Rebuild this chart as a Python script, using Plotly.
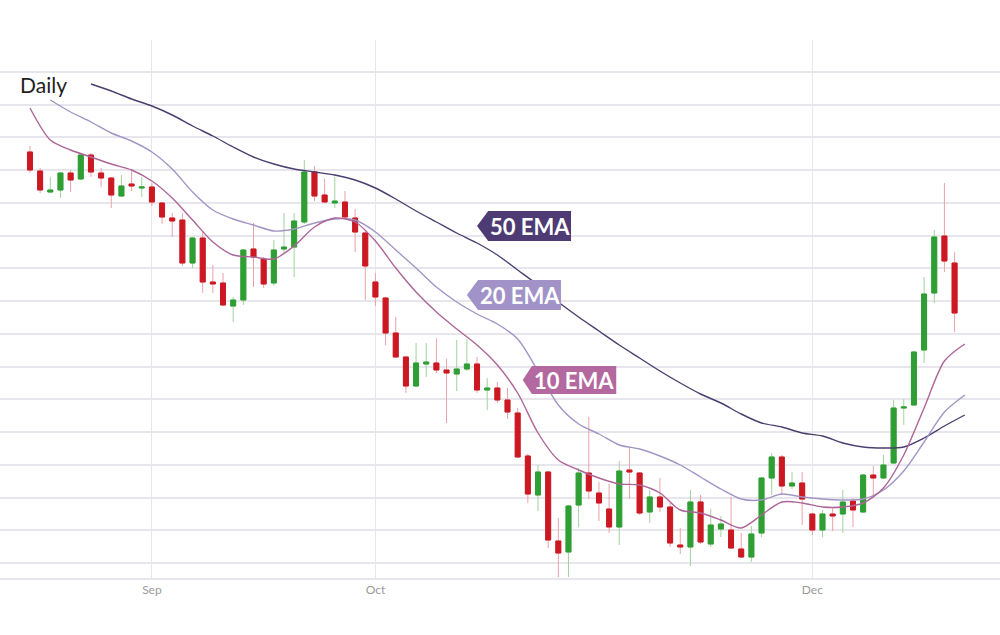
import plotly.graph_objects as go

# ---------------- data ----------------
OPEN = [49.8,47.9,45.8,46.0,47.7,47.1,49.5,47.7,47.2,45.4,
        46.6,46.2,46.3,44.7,43.2,43.0,38.7,41.2,36.8,36.7,
        34.4,35.0,40.1,39.1,36.7,40.1,40.3,42.8,47.8,45.5,
        44.7,44.8,43.2,41.7,36.8,35.2,31.7,29.3,26.4,28.6,
        28.7,28.0,27.6,28.1,28.6,26.0,26.2,25.0,23.7,19.4,
        15.5,17.8,10.9,9.8,14.5,17.7,15.7,14.1,12.3,18.0,
        17.7,13.8,15.3,14.3,10.5,10.3,14.8,10.6,12.1,12.0,
        10.1,9.3,11.7,17.2,19.3,16.4,16.7,13.6,12.0,13.6,
        13.6,14.9,13.8,17.5,17.2,18.7,24.2,24.5,30.0,35.7,
        41.4,38.7]
HIGH = [50.4,48.2,47.3,47.8,48.0,49.7,49.7,48.2,47.3,47.5,
        48.1,47.3,46.7,44.8,43.7,43.7,41.3,41.8,38.5,37.7,
        35.3,40.1,42.7,39.3,41.0,43.7,43.7,49.0,48.4,47.1,
        47.3,45.9,44.1,42.0,37.7,35.3,33.3,29.4,30.7,30.7,
        31.2,29.1,31.0,31.1,29.3,27.2,26.8,26.2,24.2,19.6,
        18.5,17.9,13.2,14.5,18.2,23.3,16.8,16.6,18.9,20.3,
        17.8,16.0,17.2,14.7,12.2,16.0,15.5,14.1,13.4,15.3,
        11.7,12.4,17.3,19.7,19.5,17.8,17.8,13.7,14.0,14.2,
        16.0,15.2,17.6,18.4,19.5,25.0,25.1,29.9,37.3,42.0,
        46.7,39.8]
LOW = [47.7,45.7,45.7,45.2,45.8,47.0,47.3,46.3,44.2,45.3,
       45.9,45.3,44.4,42.6,41.3,38.4,38.2,35.7,35.7,34.4,
       32.8,34.5,36.3,36.2,36.4,39.6,37.3,42.6,44.9,44.7,
       44.2,43.2,39.8,35.0,34.4,30.5,29.2,25.7,26.3,27.3,
       27.7,22.7,25.9,27.9,25.7,24.0,24.7,23.1,19.2,14.7,
       13.9,10.2,7.3,7.3,12.3,15.1,12.9,11.7,10.5,15.1,
       13.5,12.7,13.8,10.3,9.6,8.4,10.6,10.3,11.3,10.1,
       9.2,8.8,11.3,15.5,15.5,16.1,12.5,11.5,11.3,11.9,
       11.7,12.3,13.7,15.2,17.1,18.6,22.5,24.4,28.7,34.7,
       37.8,31.8]
CLOSE = [48.0,46.0,46.0,47.7,47.0,49.5,47.8,47.2,45.5,46.4,
         46.4,46.3,44.8,43.3,42.9,38.7,41.2,36.8,36.6,34.5,
         35.0,40.0,39.3,36.6,40.0,40.3,42.9,47.8,45.4,44.8,
         44.9,43.3,41.8,38.4,35.3,31.7,29.3,26.4,28.7,28.8,
         28.0,27.7,28.1,28.6,26.0,26.2,25.0,23.8,19.3,15.6,
         17.8,11.0,9.7,14.4,17.7,15.9,14.7,12.3,17.9,17.8,
         13.7,15.3,14.3,10.7,10.3,14.8,10.8,12.5,12.6,10.2,
         9.3,11.6,17.2,19.3,16.4,16.7,15.1,12.0,13.6,13.4,
         14.8,14.0,17.5,17.2,18.5,24.2,24.3,29.8,35.6,41.3,
         38.9,33.7]
DAYS = list(range(len(OPEN)))

# EMA readings, sampled every second session
EMA10_X = list(range(0, 93, 2))
EMA10 = [54.2,51.0,50.0,49.3,48.6,48.0,46.9,45.2,43.0,40.8,
         39.5,39.3,39.1,40.4,42.3,43.2,42.8,40.9,38.2,35.8,
         33.8,32.1,30.5,28.5,25.7,21.7,19.0,18.0,17.2,16.6,
         16.5,15.7,14.0,13.7,13.0,12.2,13.5,14.8,14.7,14.3,
         14.3,14.7,16.2,19.5,24.2,28.9,30.6]
EMA20_X = list(range(2, 93, 2))
EMA20 = [55.0,53.8,52.8,51.7,50.9,49.8,48.1,45.8,44.0,43.1,
         42.5,41.9,42.1,42.7,43.1,43.0,41.8,40.0,38.2,36.3,
         34.8,33.6,32.6,31.1,27.9,24.5,22.6,21.6,20.5,20.1,
         19.4,18.5,17.3,16.1,15.1,15.0,15.6,15.3,15.1,15.0,
         15.1,16.0,17.9,20.8,23.8,25.5]
EMA50_X = list(range(6, 93, 2))
EMA50 = [56.6,55.9,55.1,54.4,53.5,52.4,51.4,50.3,49.3,48.6,
         48.1,47.8,47.5,47.0,46.2,45.1,43.9,42.8,41.7,40.7,
         39.5,38.0,36.5,34.8,33.3,31.9,30.5,29.2,27.9,26.7,
         25.6,24.7,23.6,22.7,22.3,21.7,21.4,20.7,20.3,20.2,
         20.3,21.2,22.4,23.5]

MONTH_TICKS = [12, 34, 77]
MONTH_LABELS = ["Sep", "Oct", "Dec"]

# ---------------- style ----------------
GREEN = "#2f9e34"
RED = "#cc1822"
GREEN_WICK = "#9fd49c"
RED_WICK = "#eba1a8"
C10 = "#ad6598"
C20 = "#a295c6"
C50 = "#4b3e6f"
L10 = "#b3689f"
L20 = "#a193c8"
L50 = "#4e3b74"
GRID = "#e6e6ec"

fig = go.Figure()

# wicks
fig.add_trace(go.Candlestick(
    x=DAYS, open=OPEN, high=HIGH, low=LOW, close=CLOSE,
    increasing=dict(line=dict(color=GREEN_WICK, width=1), fillcolor=GREEN),
    decreasing=dict(line=dict(color=RED_WICK, width=1), fillcolor=RED),
    whiskerwidth=0, hoverinfo="skip", showlegend=False))

# bodies
body_hi = [max(o, c) for o, c in zip(OPEN, CLOSE)]
body_lo = [min(o, c) for o, c in zip(OPEN, CLOSE)]
fig.add_trace(go.Candlestick(
    x=DAYS, open=OPEN, high=body_hi, low=body_lo, close=CLOSE,
    increasing=dict(line=dict(color=GREEN, width=1), fillcolor=GREEN),
    decreasing=dict(line=dict(color=RED, width=1), fillcolor=RED),
    whiskerwidth=0, showlegend=False))

for xs, ys, col in [(EMA50_X, EMA50, C50), (EMA20_X, EMA20, C20), (EMA10_X, EMA10, C10)]:
    fig.add_trace(go.Scatter(x=xs, y=ys, mode="lines",
                             line=dict(color=col, width=1.4, shape="spline", smoothing=0.8),
                             hoverinfo="skip", showlegend=False))

# EMA tag labels (tip x, tip y, left, right, top, bottom)
LABELS = [
    ("50 EMA", L50, 44.0, 42.4, 45.1, 53.25, 43.9, 40.9),
    ("20 EMA", L20, 43.0, 35.5, 44.1, 52.26, 37.0, 34.0),
    ("10 EMA", L10, 48.5, 27.0, 49.4, 57.7, 28.4, 25.6),
]
shapes = []
annotations = []
for text, col, tx, ty, lft, rgt, top, bot in LABELS:
    path = f"M {tx},{ty} L {lft},{top} L {rgt},{top} L {rgt},{bot} L {lft},{bot} Z"
    shapes.append(dict(type="path", path=path, xref="x", yref="y",
                       fillcolor=col, line=dict(width=0), layer="above"))
    annotations.append(dict(x=(lft + rgt) / 2, y=ty, xref="x", yref="y", text=f"<b>{text}</b>",
                            showarrow=False, font=dict(family="Lato", size=22, color="white"),
                            xanchor="center", yanchor="middle"))

annotations.append(dict(x=0.018, y=0.918, xref="paper", yref="paper", text="Daily",
                        showarrow=False, xanchor="left", yanchor="middle",
                        font=dict(family="Lato", size=21, color="#1e1e1e")))

fig.update_layout(
    width=1000, height=635,
    margin=dict(l=0, r=0, t=40, b=57),
    paper_bgcolor="white", plot_bgcolor="white",
    shapes=shapes, annotations=annotations,
    showlegend=False,
    xaxis=dict(range=[-2.95, 95.47], tickvals=MONTH_TICKS, ticktext=MONTH_LABELS,
               showgrid=True, gridcolor=GRID, gridwidth=1.2, zeroline=False,
               showline=True, linecolor=GRID, linewidth=1.5,
               ticks="", tickfont=dict(family="Lato", size=12, color="#9a9a9a"),
               rangeslider=dict(visible=False)),
    yaxis=dict(range=[7.2, 61.0], tick0=8.7, dtick=3.2733, showticklabels=False,
               showgrid=True, gridcolor=GRID, gridwidth=1.5, zeroline=False, ticks=""),
)

fig.write_html("out.html", config={"displayModeBar": False},
               post_script="document.body.style.margin='0';document.body.style.padding='0';")
